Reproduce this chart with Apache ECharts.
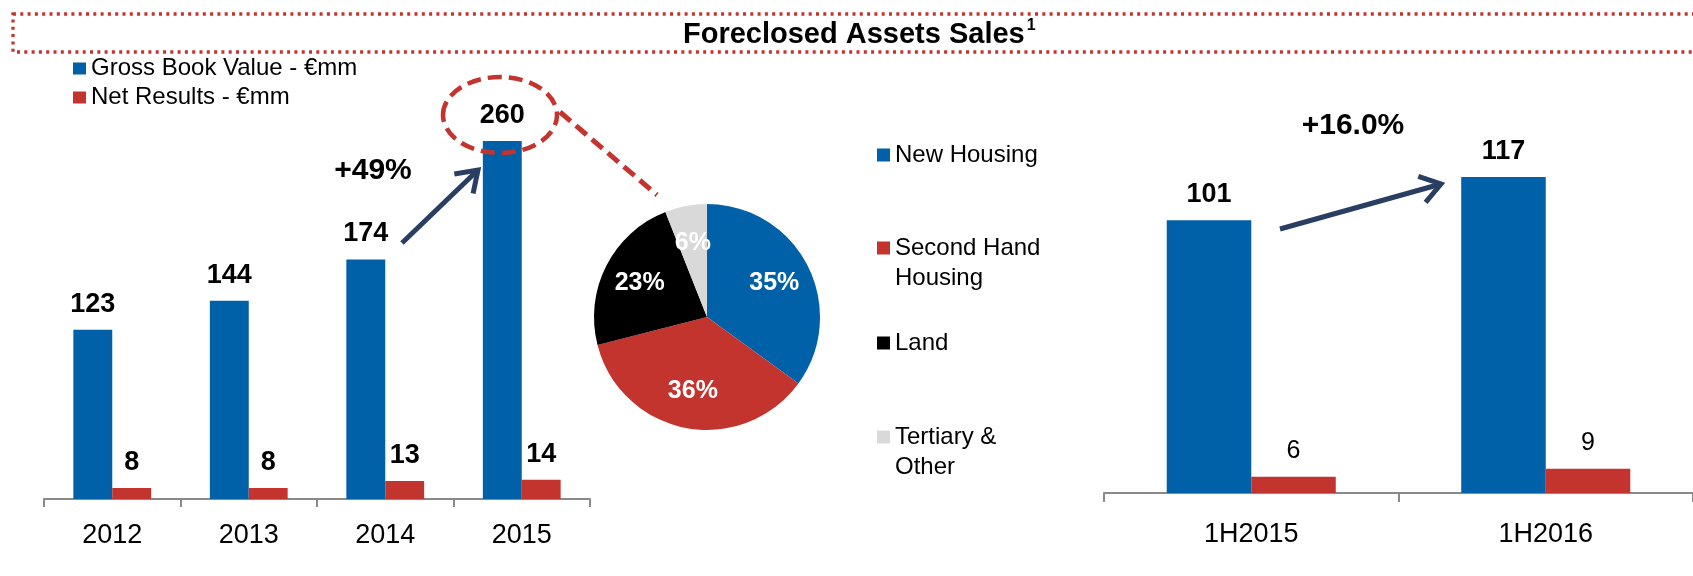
<!DOCTYPE html>
<html>
<head>
<meta charset="utf-8">
<script src="https://cdn.jsdelivr.net/npm/echarts@6/dist/echarts.min.js"></script>
<style>
  html, body { margin: 0; padding: 0; background: #fff; }
  #chart { width: 1693px; height: 576px; }
</style>
</head>
<body>
<div id="chart"></div>
<script>
// yearly sales
const years = ["2012", "2013", "2014", "2015"];
const grossBook = [123, 144, 174, 260];
const netResults = [8, 8, 13, 14];

// half-year sales
const halves = ["1H2015", "1H2016"];
const grossBookH = [101, 117];
const netResultsH = [6, 9];

// 2015 breakdown (%)
const assetTypes = ["New Housing", "Second Hand\nHousing", "Land", "Tertiary &\nOther"];
const assetShares = [35, 36, 23, 6];

const growthNotes = ["+49%", "+16.0%"];

const FONT = "'Liberation Sans', Arial, sans-serif";
const BLUE = "#0060A8";
const RED = "#C4342E";
const NAVY = "#293F62";
const GREY = "#8A8A8A";
const sliceColors = [BLUE, RED, "#000000", "#D9D9D9"];

const grossName = "Gross Book Value - €mm";
const netName = "Net Results - €mm";

const chart = echarts.init(document.getElementById("chart"));

const pieCenter = [707, 317];

// arrow = shaft + open head
function arrow(x1, y1, x2, y2) {
  const a = Math.atan2(y2 - y1, x2 - x1);
  const L = 24, w = 0.6;
  return [
    { type: "line", z: 100, shape: { x1, y1, x2, y2 }, style: { stroke: NAVY, lineWidth: 5 } },
    {
      type: "polyline", z: 100,
      shape: {
        points: [
          [x2 - L * Math.cos(a - w), y2 - L * Math.sin(a - w)],
          [x2, y2],
          [x2 - L * Math.cos(a + w), y2 - L * Math.sin(a + w)],
        ],
      },
      style: { stroke: NAVY, lineWidth: 5, fill: null },
    },
  ];
}

const axisCommon = {
  type: "category",
  axisLine: { lineStyle: { color: GREY, width: 2 } },
  axisTick: { show: true, length: 8, lineStyle: { color: GREY, width: 2 } },
  axisLabel: { color: "#000", fontSize: 27, fontFamily: FONT },
};

const barLabel = (size, weight) => ({
  show: true,
  position: "top",
  distance: 12,
  color: "#000",
  fontSize: size,
  fontWeight: weight,
  fontFamily: FONT,
});

// one legend per pie item; two-line names get a blank line on top
// so the first line sits next to the square
const pieLegendTops = [140, 203, 328, 392];
const pieLegends = assetTypes.map((name, i) => ({
  data: [name],
  orient: "vertical",
  left: 877,
  top: pieLegendTops[i],
  padding: 0,
  icon: "rect",
  itemWidth: 13,
  itemHeight: 13,
  selectedMode: false,
  formatter: (n) => (n.indexOf("\n") >= 0 ? "\n" + n : n),
  textStyle: { fontSize: 24, lineHeight: 30, fontFamily: FONT, color: "#000" },
}));

const option = {
  animation: false,
  title: {
    text: "{t|Foreclosed Assets Sales}{s|1}",
    left: 683,
    top: 18,
    padding: 0,
    textStyle: {
      rich: {
        t: { fontSize: 29, fontWeight: "bold", fontFamily: FONT, color: "#000", lineHeight: 34 },
        s: { fontSize: 16, fontWeight: "bold", fontFamily: FONT, color: "#000", verticalAlign: "top", lineHeight: 34, padding: [0, 0, 0, 2] },
      },
    },
  },
  legend: [
    {
      data: [grossName, netName],
      orient: "vertical",
      left: 73,
      top: 54,
      padding: 0,
      itemGap: 0,
      icon: "rect",
      itemWidth: 13,
      itemHeight: 12,
      textStyle: { fontSize: 24, lineHeight: 29, fontFamily: FONT, color: "#000" },
    },
    ...pieLegends,
  ],
  grid: [
    { left: 44, right: 1103, top: 86, bottom: 77 },
    { left: 1104, right: -21, top: 88, bottom: 83 },
  ],
  xAxis: [
    { ...axisCommon, gridIndex: 0, data: years, axisLabel: { ...axisCommon.axisLabel, margin: 23 } },
    { ...axisCommon, gridIndex: 1, data: halves, axisTick: { ...axisCommon.axisTick, length: 9 }, axisLabel: { ...axisCommon.axisLabel, margin: 28 } },
  ],
  yAxis: [
    { type: "value", gridIndex: 0, min: 0, max: 300, show: false },
    { type: "value", gridIndex: 1, min: 0, max: 150, show: false },
  ],
  series: [
    {
      name: grossName, type: "bar", xAxisIndex: 0, yAxisIndex: 0,
      data: grossBook, itemStyle: { color: BLUE },
      barGap: "0%", barCategoryGap: "43%",
      label: barLabel(27, "bold"),
    },
    {
      name: netName, type: "bar", xAxisIndex: 0, yAxisIndex: 0,
      data: netResults, itemStyle: { color: RED },
      barGap: "0%", barCategoryGap: "43%",
      label: barLabel(27, "bold"),
    },
    {
      name: grossName, type: "bar", xAxisIndex: 1, yAxisIndex: 1,
      data: grossBookH, itemStyle: { color: BLUE },
      barGap: "0%", barCategoryGap: "42.6%",
      label: barLabel(27, "bold"),
    },
    {
      name: netName, type: "bar", xAxisIndex: 1, yAxisIndex: 1,
      data: netResultsH, itemStyle: { color: RED },
      barGap: "0%", barCategoryGap: "42.6%",
      label: { ...barLabel(25, "normal"), distance: 13 },
    },
    {
      name: "2015 breakdown", type: "pie",
      center: pieCenter, radius: [0, 113],
      startAngle: 90, clockwise: true,
      color: sliceColors,
      data: assetTypes.map((name, i) => ({ name, value: assetShares[i] })),
      itemStyle: { borderWidth: 0 },
      label: {
        show: true, position: "inside",
        formatter: "{c}%",
        color: "#fff", fontSize: 25, fontWeight: "bold", fontFamily: FONT,
      },
      labelLine: { show: false },
      // push the labels a bit further out than the mid radius
      labelLayout: function (p) {
        const r = p.labelRect;
        const cx = r.x + r.width / 2 - pieCenter[0];
        const cy = r.y + r.height / 2 - pieCenter[1];
        return { dx: cx * 0.27, dy: cy * 0.27 };
      },
      emphasis: { disabled: true },
    },
  ],
  graphic: [
    // dotted frame round the title
    {
      type: "rect", z: 100,
      shape: { x: 13, y: 14, width: 1700, height: 38 },
      style: { fill: null, stroke: RED, lineWidth: 3.3, lineDash: [3, 4.3] },
    },
    // 260 callout
    {
      type: "ellipse", z: 100,
      shape: { cx: 500, cy: 115, rx: 57, ry: 38 },
      style: { fill: null, stroke: RED, lineWidth: 4.5, lineDash: [14, 7] },
    },
    {
      type: "line", z: 100,
      shape: { x1: 560, y1: 112, x2: 657, y2: 195 },
      style: { stroke: RED, lineWidth: 5, lineDash: [14, 7] },
    },
    ...arrow(402, 243, 478, 170),
    ...arrow(1280, 229, 1441, 184),
    {
      type: "text", z: 100, x: 373, y: 171,
      style: { text: growthNotes[0], fontSize: 30, fontWeight: "bold", fontFamily: FONT, fill: "#000", align: "center", verticalAlign: "middle" },
    },
    {
      type: "text", z: 100, x: 1353, y: 126,
      style: { text: growthNotes[1], fontSize: 30, fontWeight: "bold", fontFamily: FONT, fill: "#000", align: "center", verticalAlign: "middle" },
    },
  ],
};

chart.setOption(option);
</script>
</body>
</html>
